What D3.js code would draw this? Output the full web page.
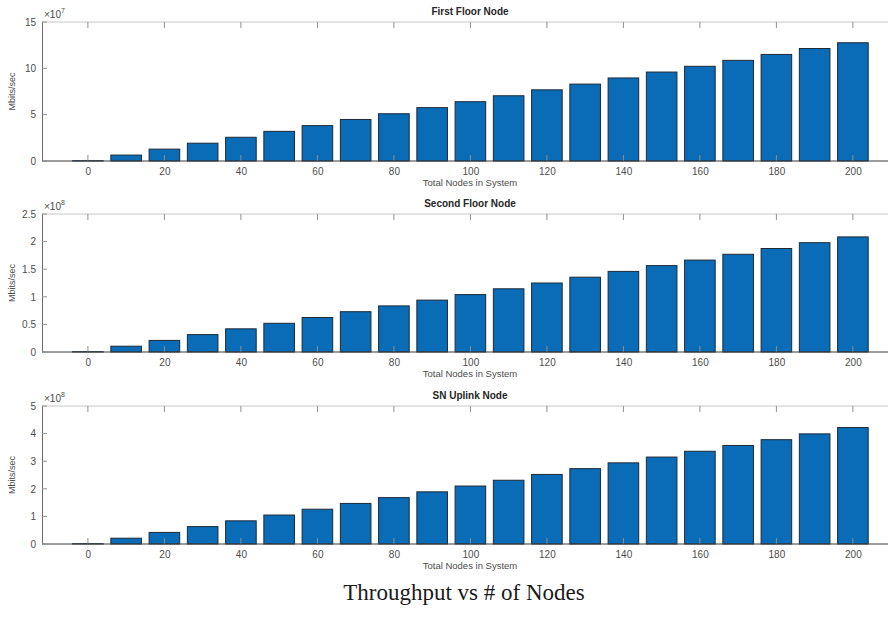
<!DOCTYPE html>
<html>
<head>
<meta charset="utf-8">
<script src="https://cdn.jsdelivr.net/npm/d3@7"></script>
<style>
  body { margin: 0; background: #fff; }
  svg { display: block; }
</style>
</head>
<body>
<div id="wrapper"></div>
<script>
// Nodes on the x axis
const nodes = [0, 10, 20, 30, 40, 50, 60, 70, 80, 90, 100, 110, 120, 130, 140, 150, 160, 170, 180, 190, 200];
const xTicks = [0, 20, 40, 60, 80, 100, 120, 140, 160, 180, 200];

// throughput (in units of the axis exponent)
const firstFloor = [0.03, 0.64, 1.28, 1.92, 2.56, 3.2, 3.82, 4.48, 5.1, 5.76, 6.4, 7.04, 7.68, 8.3, 8.96, 9.6, 10.22, 10.86, 11.5, 12.14, 12.76];
const secondFloor = [0.005, 0.105, 0.21, 0.315, 0.42, 0.52, 0.625, 0.73, 0.835, 0.94, 1.04, 1.145, 1.25, 1.355, 1.46, 1.565, 1.665, 1.77, 1.875, 1.98, 2.085];
const snUplink = [0.01, 0.21, 0.42, 0.63, 0.84, 1.05, 1.26, 1.47, 1.68, 1.89, 2.1, 2.31, 2.52, 2.73, 2.94, 3.15, 3.36, 3.57, 3.78, 3.99, 4.22];

const panels = [
    { title: "First Floor Node", values: firstFloor, max: 15, ticks: [0, 5, 10, 15], exp: 7, top: 22, bottom: 161 },
    { title: "Second Floor Node", values: secondFloor, max: 2.5, ticks: [0, 0.5, 1, 1.5, 2, 2.5], exp: 8, top: 214, bottom: 352 },
    { title: "SN Uplink Node", values: snUplink, max: 5, ticks: [0, 1, 2, 3, 4, 5], exp: 8, top: 406, bottom: 544 }
];

const width = 888, height = 618;
const left = 42;
const pxPerUnit = 3.825;
const textColor = "#4d4d4d";

const svg = d3.select("#wrapper")
    .append("svg")
        .attr("width", width)
        .attr("height", height)
        .style("font-family", "'Liberation Sans', Arial, sans-serif");

const xScale = d3.scaleLinear()
    .domain([-12, 212])
    .range([left, left + 224 * pxPerUnit]);
const barWidth = 8 * pxPerUnit;

panels.forEach(p => {
    const yScale = d3.scaleLinear()
        .domain([0, p.max])
        .range([p.bottom, p.top]);

    const g = svg.append("g");

    // box top line
    g.append("line")
        .attr("x1", left).attr("x2", width)
        .attr("y1", p.top).attr("y2", p.top)
        .attr("stroke", "#c8c8c8");

    // bars
    g.selectAll("rect")
        .data(p.values)
        .join("rect")
            .attr("x", (d, i) => xScale(nodes[i]) - barWidth / 2)
            .attr("y", d => yScale(d))
            .attr("width", barWidth)
            .attr("height", d => p.bottom - yScale(d))
            .attr("fill", "#0a6cb7")
            .attr("stroke", "#1c2a38")
            .attr("stroke-width", 1);

    // top ticks (box on)
    g.selectAll(".topTick")
        .data(xTicks)
        .join("line")
            .attr("class", "topTick")
            .attr("x1", d => xScale(d)).attr("x2", d => xScale(d))
            .attr("y1", p.top).attr("y2", p.top + 6)
            .attr("stroke", "#909090");

    // x axis
    const xAxis = d3.axisBottom(xScale)
        .tickValues(xTicks)
        .tickSize(0)
        .tickPadding(7)
        .tickFormat(d3.format("d"));
    const xg = g.append("g")
        .attr("transform", `translate(0,${p.bottom})`)
        .call(xAxis);
    xg.select(".domain").remove();
    xg.selectAll("text").attr("fill", textColor).style("font-size", "10px");
    // small up ticks at the bottom
    g.selectAll(".botTick")
        .data(xTicks)
        .join("line")
            .attr("class", "botTick")
            .attr("x1", d => xScale(d)).attr("x2", d => xScale(d))
            .attr("y1", p.bottom).attr("y2", p.bottom - 6)
            .attr("stroke", "#909090");
    g.append("line")
        .attr("x1", left).attr("x2", width)
        .attr("y1", p.bottom).attr("y2", p.bottom)
        .attr("stroke", "#3a3a3a");

    // y axis
    const yAxis = d3.axisLeft(yScale)
        .tickValues(p.ticks)
        .tickSize(0)
        .tickPadding(6)
        .tickFormat(d => d);
    const yg = g.append("g")
        .attr("transform", `translate(${left},0)`)
        .call(yAxis);
    yg.select(".domain").attr("stroke", "#6a6a6a");
    yg.selectAll("text").attr("fill", textColor).style("font-size", "10px");
    g.selectAll(".yTick")
        .data(p.ticks)
        .join("line")
            .attr("class", "yTick")
            .attr("x1", left).attr("x2", left + 5)
            .attr("y1", d => yScale(d)).attr("y2", d => yScale(d))
            .attr("stroke", "#909090");

    // exponent label
    const expText = g.append("text")
        .attr("x", left + 2)
        .attr("y", p.top - 4)
        .attr("fill", textColor)
        .style("font-size", "10px")
        .text("\u00d710");
    expText.append("tspan")
        .attr("dy", -5)
        .style("font-size", "7px")
        .text(p.exp);

    // y label
    g.append("text")
        .attr("transform", `translate(15,${(p.top + p.bottom) / 2}) rotate(-90)`)
        .attr("text-anchor", "middle")
        .attr("fill", textColor)
        .style("font-size", "9px")
        .text("Mbits/sec");

    // title
    g.append("text")
        .attr("x", 470)
        .attr("y", p.top - 7)
        .attr("text-anchor", "middle")
        .attr("fill", "#262626")
        .style("font-size", "10px")
        .style("font-weight", "bold")
        .text(p.title);

    // x label
    g.append("text")
        .attr("x", 470)
        .attr("y", p.bottom + 25)
        .attr("text-anchor", "middle")
        .attr("fill", textColor)
        .style("font-size", "9.5px")
        .text("Total Nodes in System");
});

// caption
svg.append("text")
    .attr("x", 464)
    .attr("y", 600)
    .attr("text-anchor", "middle")
    .attr("fill", "#1a1a1a")
    .style("font-family", "'Liberation Serif', 'Times New Roman', serif")
    .style("font-size", "23px")
    .text("Throughput vs # of Nodes");
</script>
</body>
</html>
